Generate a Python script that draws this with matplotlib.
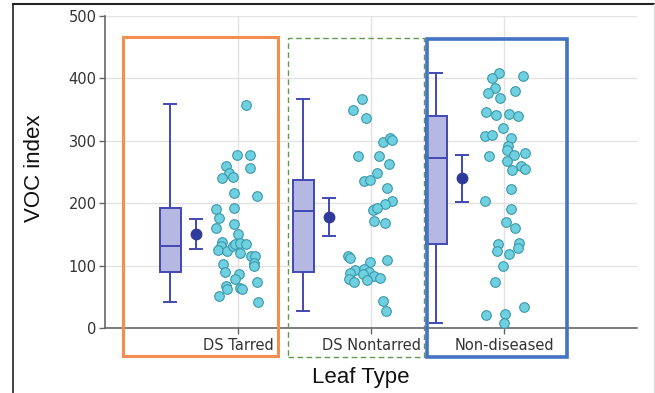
import matplotlib
matplotlib.use("Agg")
import matplotlib.pyplot as plt
from matplotlib.patches import Rectangle
from matplotlib.lines import Line2D
import numpy as np

categories = ["DS Tarred", "DS Nontarred", "Non-diseased"]

# box statistics
box_whislo = [42, 28, 8]
box_q1 = [89, 89, 134]
box_med = [132, 188, 272]
box_q3 = [192, 237, 339]
box_whishi = [359, 367, 409]

# mean and error-bar limits
mean_vals = [150, 178, 240]
err_lo = [126, 147, 202]
err_hi = [174, 208, 278]

# individual observations
tarred_vals = [358, 277, 277, 260, 257, 248, 240, 242, 217, 212, 190, 192, 176, 167,
               160, 150, 138, 131, 125, 124, 131, 135, 136, 134, 120, 115, 115, 104,
               99, 103, 89, 87, 78, 68, 62, 64, 62, 73, 52, 42]
tarred_jit = [245.7, 237, 250, 226.3, 250.3, 229.3, 221.7, 233.3, 234, 257.3, 216, 234,
              219.3, 233.7, 215.7, 237.7, 221.7, 220.7, 218.3, 226.7, 232.7, 235, 240,
              245.7, 240, 250.7, 255.3, 254, 254.3, 222.7, 225, 239, 235, 226, 227.3,
              240, 241.7, 257, 219, 258]
nontarred_vals = [367, 349, 336, 298, 304, 301, 275, 275, 263, 248, 236, 237, 224, 203,
                  198, 191, 189, 192, 172, 169, 116, 112, 106, 109, 93, 88, 94, 90, 87,
                  84, 80, 79, 74, 77, 44, 28]
nontarred_jit = [362, 352.7, 366, 382.7, 390.3, 391.7, 358, 379, 389, 377.3, 364.3, 370.3,
                 387.3, 391.7, 384.7, 375, 373.3, 376.7, 373.7, 385, 348.3, 350, 370.3,
                 387, 354.7, 350, 364, 369.3, 363.3, 374.3, 380, 349, 354, 367.3, 382.7,
                 385.7]
nondis_vals = [409, 404, 400, 384, 377, 380, 368, 346, 342, 343, 339, 321, 308, 309, 304,
               291, 285, 276, 277, 280, 267, 259, 255, 253, 222, 204, 190, 170, 160, 134,
               123, 136, 129, 119, 100, 74, 33, 21, 22, 8.5]
nondis_jit = [498, 521.7, 490.7, 494.3, 487, 514, 499, 485.3, 495, 507.7, 517, 501.7,
              483.7, 491, 510.3, 507.3, 505.7, 487.7, 512.7, 524, 506.3, 520.3, 524, 511,
              509.7, 483.7, 509.7, 505.3, 514.3, 497, 495.7, 518, 517, 507.7, 501.7,
              494.3, 522.7, 485.3, 503.7, 503]

point_vals = [tarred_vals, nontarred_vals, nondis_vals]
point_jit_px = [tarred_jit, nontarred_jit, nondis_jit]
tick_px = [238, 371, 503]
px_per_unit = 133.0

W, H = 655, 393
fig = plt.figure(figsize=(W / 100, H / 100), dpi=100)
ax = fig.add_axes([105 / W, 1 - 328 / H, (637 - 105) / W, (328 - 16) / H])

box_col = "#4249b0"
fill_col = "#b5b8e2"
mean_col = "#2f3a9c"
pt_face = "#6fd0e0"
pt_edge = "#3a98aa"

x = np.arange(len(categories))
box_off = -0.51
mean_off = -0.315

stats = []
for i in range(len(categories)):
    stats.append(dict(med=box_med[i], q1=box_q1[i], q3=box_q3[i],
                      whislo=box_whislo[i], whishi=box_whishi[i], fliers=[]))
ax.bxp(stats, positions=x + box_off, widths=0.158, patch_artist=True,
       showfliers=False, manage_ticks=False,
       boxprops=dict(facecolor=fill_col, edgecolor=box_col, linewidth=1.4),
       medianprops=dict(color=box_col, linewidth=1.4),
       whiskerprops=dict(color=box_col, linewidth=1.4),
       capprops=dict(color=box_col, linewidth=1.4),
       capwidths=0.09, zorder=3)

means = np.array(mean_vals)
yerr = np.vstack([means - np.array(err_lo), np.array(err_hi) - means])
ax.errorbar(x + mean_off, means, yerr=yerr, fmt="o", color=mean_col,
            ecolor=box_col, elinewidth=1.4, capsize=5, capthick=1.4,
            markersize=7.5, zorder=4)

for i in range(len(categories)):
    xs = i + (np.array(point_jit_px[i]) - tick_px[i]) / px_per_unit
    ax.scatter(xs, point_vals[i], s=48, facecolor=pt_face, edgecolor=pt_edge,
               linewidth=0.8, zorder=5)

ax.set_xlim(-1, 3)
ax.set_ylim(0, 500)
ax.set_yticks([0, 100, 200, 300, 400, 500])
ax.set_xticks(x)
ax.set_xticklabels(categories)
ax.grid(True, color="#e3e3e3", linewidth=1.0, zorder=0)
ax.set_axisbelow(True)
for s in ["top", "right"]:
    ax.spines[s].set_visible(False)
for s in ["left", "bottom"]:
    ax.spines[s].set_color("#666666")
    ax.spines[s].set_linewidth(1.2)
ax.tick_params(axis="both", colors="#666666", length=4, width=1.0,
               labelsize=10.5, labelcolor="#333333", pad=2)
ax.tick_params(axis="x", pad=3)

fig.text(35 / W, 1 - 168 / H, "VOC index", rotation=90, ha="center", va="center",
         fontsize=16, family="Liberation Sans", color="#111111")
fig.text(361 / W, 1 - 378 / H, "Leaf Type", ha="center", va="center",
         fontsize=16, family="Liberation Sans", color="#111111")

# highlight rectangles (figure pixel coords)
def frect(x0, y0, x1, y1, **kw):
    r = Rectangle((x0 / W, 1 - y1 / H), (x1 - x0) / W, (y1 - y0) / H,
                  transform=fig.transFigure, fill=False, zorder=10, **kw)
    fig.add_artist(r)

frect(123, 37, 278, 356, edgecolor="#f28e50", linewidth=2.2)
frect(287.5, 38, 424, 357, edgecolor="#5f9a4f", linewidth=1.0, linestyle=(0, (4, 2.5)))
frect(427, 39, 567, 357, edgecolor="#4472c4", linewidth=2.6)

# outer frame
fig.add_artist(Line2D([13 / W, 13 / W], [0, 1 - 4 / H], transform=fig.transFigure,
                      color="#222222", linewidth=1.2))
fig.add_artist(Line2D([13 / W, 1], [1 - 4 / H, 1 - 4 / H], transform=fig.transFigure,
                      color="#222222", linewidth=1.5))
fig.add_artist(Line2D([654 / W, 654 / W], [0, 1 - 4 / H], transform=fig.transFigure,
                      color="#dddddd", linewidth=1.0))

fig.savefig("out.png", dpi=100)
